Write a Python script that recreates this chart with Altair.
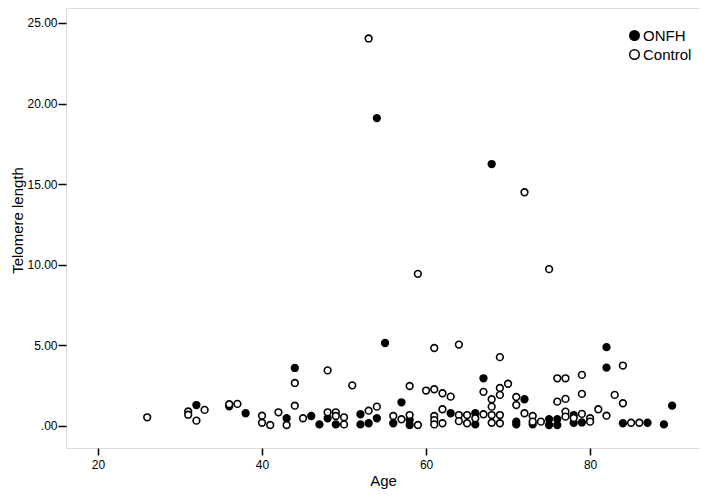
import altair as alt
import pandas as pd

# ONFH group (age, telomere length)
onfh_age = [32, 36, 38, 43, 44, 46, 47, 48, 49, 52, 52, 53, 54, 54, 55, 56, 57, 58, 58,
            63, 66, 66, 67, 68, 71, 71, 72, 73, 75, 75, 76, 76, 78, 78, 79, 82, 82, 84,
            87, 89, 90]
onfh_val = [1.3, 1.22, 0.79, 0.48, 3.6, 0.62, 0.1, 0.48, 0.1, 0.73, 0.1, 0.17, 19.1, 0.48,
            5.15, 0.17, 1.47, 0.37, 0.06, 0.79, 0.79, 0.1, 2.96, 16.25, 0.27, 0.1, 1.66,
            0.1, 0.43, 0.06, 0.43, 0.06, 0.68, 0.2, 0.22, 4.89, 3.62, 0.17, 0.2, 0.1, 1.26]

# Control group (age, telomere length)
ctrl_age = [26, 31, 31, 32, 33, 36, 37, 40, 40, 41, 42, 43, 44, 44, 45, 48, 48, 49, 49,
            50, 50, 51, 53, 53, 54, 56, 57, 58, 58, 59, 59, 60, 61, 61, 61, 61, 61, 62,
            62, 62, 63, 64, 64, 64, 65, 65, 66, 67, 67, 68, 68, 68, 68, 69, 69, 69, 69,
            69, 70, 71, 71, 72, 72, 73, 73, 74, 75, 76, 76, 77, 77, 77, 77, 78, 79, 79,
            79, 80, 80, 81, 82, 83, 84, 84, 85, 86]
ctrl_val = [0.54, 0.9, 0.7, 0.33, 1.0, 1.35, 1.37, 0.64, 0.2, 0.06, 0.85, 0.06, 2.67, 1.26,
            0.48, 3.45, 0.85, 0.85, 0.62, 0.54, 0.1, 2.52, 24.04, 0.95, 1.2, 0.62, 0.42,
            2.48, 0.68, 9.44, 0.06, 2.2, 4.84, 2.28, 0.62, 0.37, 0.1, 2.03, 1.04, 0.17,
            1.82, 5.05, 0.68, 0.3, 0.68, 0.17, 0.48, 2.12, 0.73, 1.66, 1.2, 0.68, 0.2,
            4.27, 2.36, 1.93, 0.68, 0.17, 2.62, 1.8, 1.3, 14.5, 0.79, 0.62, 0.27, 0.27,
            9.73, 2.96, 1.51, 2.96, 1.68, 0.89, 0.58, 0.5, 3.17, 1.99, 0.75, 0.48, 0.27,
            1.04, 0.64, 1.93, 3.75, 1.41, 0.2, 0.2]

groups = ["ONFH", "Control"]
x_ticks = [20, 40, 60, 80]
y_ticks = [0, 5, 10, 15, 20, 25]

df = pd.concat([
    pd.DataFrame({"Age": onfh_age, "Telomere": onfh_val, "Group": groups[0], "ord": 0}),
    pd.DataFrame({"Age": ctrl_age, "Telomere": ctrl_val, "Group": groups[1], "ord": 1}),
], ignore_index=True)

font = "Liberation Sans"

chart = alt.Chart(df).mark_point(
    shape="circle", filled=True, size=45, stroke="black", strokeWidth=1.6, opacity=1
).encode(
    x=alt.X("Age:Q",
            scale=alt.Scale(domain=[16.1, 93.4], nice=False, zero=False),
            axis=alt.Axis(values=x_ticks, title="Age", grid=False, domain=False,
                          tickSize=7, tickColor="black", tickWidth=1.5,
                          labelFontSize=12, labelColor="black", labelPadding=4,
                          titleFontSize=15, titleFontWeight="normal", titleColor="black",
                          titlePadding=3, labelFont=font, titleFont=font)),
    y=alt.Y("Telomere:Q",
            scale=alt.Scale(domain=[-1.365, 25.93], nice=False, zero=False),
            axis=alt.Axis(values=y_ticks, title="Telomere length", grid=False, domain=False,
                          tickSize=8, tickColor="black", tickWidth=1.5,
                          labelExpr="datum.value == 0 ? '.00' : format(datum.value, '.2f')",
                          labelFontSize=12, labelColor="black", labelPadding=1,
                          titleFontSize=15, titleFontWeight="normal", titleColor="black",
                          titlePadding=1, titleY=212, labelFont=font, titleFont=font)),
    fill=alt.Fill("Group:N",
                  scale=alt.Scale(domain=groups, range=["black", "white"]),
                  legend=alt.Legend(title=None, orient="none", legendX=561, legendY=20,
                                    symbolType="circle", symbolSize=90,
                                    symbolStrokeColor="black", symbolStrokeWidth=1.5,
                                    labelFontSize=15, labelColor="black", labelFont=font,
                                    labelOffset=1, rowPadding=2)),
    order=alt.Order("ord:Q"),
).properties(
    width=634, height=440,
    autosize=alt.AutoSizeParams(type="none"),
    padding={"left": 58, "top": 0, "right": 0, "bottom": 43},
).configure_view(
    stroke="black", strokeWidth=1.5
).configure(background="white")

chart.save("out.html", embed_options={"renderer": "svg", "actions": False})
